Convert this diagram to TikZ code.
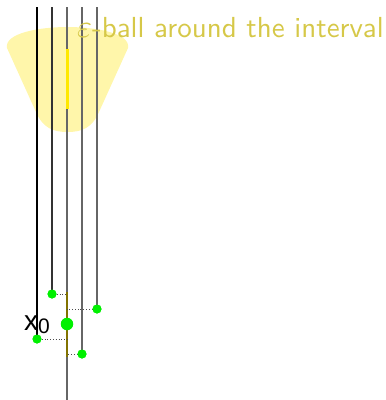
\documentclass[tikz,border=0pt]{standalone}
\usepackage{fontspec}
\usepackage{graphicx}
\usepackage{tikz}
\setsansfont{lmsans10-regular.otf}
\newfontfamily\arialfont{Liberation Sans}
\definecolor{blobfill}{RGB}{255,246,170}
\definecolor{txtcol}{RGB}{214,200,72}
\definecolor{dotgreen}{RGB}{0,240,0}
\definecolor{segolive}{RGB}{130,115,0}
\definecolor{brightyel}{RGB}{255,232,0}
\tikzset{
  vline/.style={line width=1.1pt},
  gdot/.style={circle,fill=dotgreen,inner sep=0pt,minimum size=9pt},
  bigdot/.style={circle,fill=dotgreen,inner sep=0pt,minimum size=12.5pt},
  proj/.style={dotted,line width=0.8pt,black!70},
}
\begin{document}
\begin{tikzpicture}[x=1pt,y=-1pt]
\useasboundingbox (0,0) rectangle (386,400);
% epsilon ball
\fill[blobfill] (7,48) .. controls (4,33) and (40,27) .. (67.5,27)
  .. controls (95,27) and (131,33) .. (128,48)
  -- (99,112) .. controls (92,128) and (82,132) .. (67.5,132)
  .. controls (53,132) and (43,128) .. (36,112) -- cycle;
% top coordinates
\coordinate (t1) at (37,7);
\coordinate (t2) at (52,7);
\coordinate (t3) at (67,7);
\coordinate (t4) at (82,7);
\coordinate (t5) at (97,7);
\coordinate (b3) at (67,400);
% dots
\node[gdot] (d1) at (37,339) {};
\node[gdot] (d2) at (52,294) {};
\node[gdot] (d4) at (82,354) {};
\node[gdot] (d5) at (97,309) {};
% lines
\draw[vline,black] (t1) -- (d1.center);
\draw[vline,black!80] (t2) -- (d2.center);
\draw[vline,black!60] (t3) -- (b3);
\draw[vline,black!60] (t4) -- (d4.center);
\draw[vline,black!60] (t5) -- (d5.center);
% interval segments
\coordinate (ya) at (67,49);
\coordinate (yb) at (67,109);
\draw[brightyel,line width=3pt] (ya) -- (yb);
\coordinate (oa) at (67,292);
\coordinate (ob) at (67,357);
\draw[segolive,line width=1.6pt] (oa) -- (ob);
% projections
\coordinate (p1) at (67,339);
\coordinate (p2) at (67,294);
\coordinate (p4) at (67,354);
\coordinate (p5) at (67,309);
\draw[proj] (d1) -- (p1);
\draw[proj] (d2) -- (p2);
\draw[proj] (d4) -- (p4);
\draw[proj] (d5) -- (p5);
% redraw dots on top
\node[gdot] at (d1) {};
\node[gdot] at (d2) {};
\node[gdot] at (d4) {};
\node[gdot] at (d5) {};
\node[bigdot] (x0) at (67,324) {};
\node[anchor=base west,inner sep=0pt,font=\arialfont\fontsize{28}{32}\selectfont] (lx) at (24,330) {x\raisebox{-3pt}{\fontsize{21}{24}\selectfont 0}};
% label
\node[anchor=base west,inner sep=0pt,text=txtcol,font=\sffamily\fontsize{29}{33}\selectfont] (lab) at (77,37) {\scalebox{3.2}{\normalsize$\varepsilon$}-ball around the interval};
\end{tikzpicture}
\end{document}
